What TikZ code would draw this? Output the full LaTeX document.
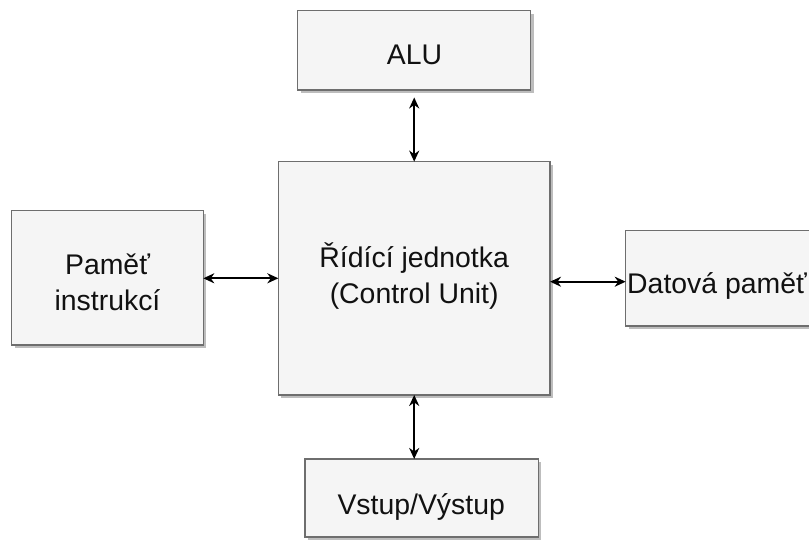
\documentclass[tikz,border=0pt]{standalone}
\usepackage{fontspec}
\setmainfont{Liberation Sans}
\usetikzlibrary{shadows,arrows.meta,calc}
\definecolor{boxfill}{HTML}{F5F5F5}
\definecolor{boxline}{HTML}{6E6E6E}
\definecolor{shade}{HTML}{BDBDBD}
\definecolor{ink}{HTML}{111111}
\tikzset{
  block/.style={rectangle, draw=boxline, fill=boxfill, line width=1.2pt,
    inner sep=0pt, outer sep=0pt,
    drop shadow={shadow xshift=3pt, shadow yshift=-3pt, fill=shade, opacity=1}},
  lbl/.style={anchor=base, inner sep=0pt, text=ink,
    font=\fontsize{28.4}{35}\selectfont},
  link/.style={line width=2pt, draw=black,
    {Stealth[length=11pt,width=10pt,inset=3.5pt]}-{Stealth[length=11pt,width=10pt,inset=3.5pt]}}
}
\begin{document}
\begin{tikzpicture}[x=1pt,y=-1pt]
\useasboundingbox (0,0) rectangle (809,540);

% blocks
\node[block, minimum width=233pt,   minimum height=79.3pt]  (alu) at (414.2,50.3)  {};
\node[block, minimum width=271.7pt, minimum height=233.3pt] (cu)  at (414.2,278.3) {};
\node[block, minimum width=191.6pt, minimum height=134.3pt] (pim) at (107.5,277.8) {};
\node[block, minimum width=204pt,   minimum height=95.3pt]  (dat) at (727.7,278.3) {};
\node[block, minimum width=233.3pt, minimum height=78pt]    (io)  at (421.7,498)   {};

% labels
\node[lbl] (alut) at ($(alu.center)+(0.3,14.7)$) {ALU};
\node[lbl] (cut1) at ($(cu.center)+(0,-10.3)$) {Řídící jednotka};
\node[lbl] (cut2) at ($(cu.center)+(0,24.7)$) {(Control Unit)};
\node[lbl] (pimt1) at ($(pim.center)+(0,-2.8)$) {Paměť};
\node[lbl] (pimt2) at ($(pim.center)+(0,32.2)$) {instrukcí};
\node[lbl, anchor=base west] (datt) at ($(dat.west)+(1.3,15.7)$) {Datová paměť};
\node[lbl] (iot) at ($(io.center)+(-0.5,16)$) {Vstup/Výstup};

% connections
\draw[link] ([yshift=-7.5pt]alu.south) -- (cu.north);
\draw[link] (pim.east |- cu.west) -- (cu.west);
\draw[link] ([yshift=-3.4pt]cu.east) -- ([yshift=-3.4pt]dat.west);
\draw[link] (cu.south) -- (cu.south |- io.north);
\end{tikzpicture}
\end{document}
